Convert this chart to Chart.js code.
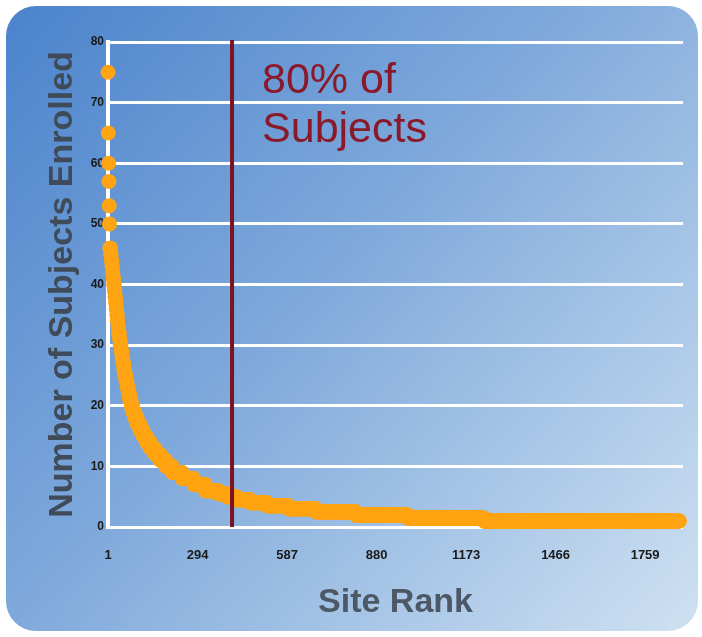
<!DOCTYPE html>
<html>
<head>
<meta charset="utf-8">
<script src="https://cdn.jsdelivr.net/npm/chart.js@4.4.1/dist/chart.umd.min.js"></script>
<style>
  html, body { margin: 0; padding: 0; background: #fff; }
  #wrap { width: 702px; height: 637px; position: relative; }
</style>
</head>
<body>
<div id="wrap"><canvas id="site-rank-chart"></canvas></div>
<script>
// subjects enrolled per site, highest first, and how many sites sit at that level
var enrolledLevels = [75, 65, 60, 57, 53, 50, 46, 45, 44, 43, 42, 41, 40, 39, 38, 37, 36, 35, 34, 33, 32, 31, 30,
    29, 28, 27, 26, 25, 24, 23, 22, 21, 20, 19, 18, 17, 16, 15, 14, 13, 12, 11, 10, 9, 8, 7, 6, 5.5, 5, 4.5, 4,
    3.5, 3, 2.5, 2, 1.5, 1];
var sitesAtLevel = [1, 1, 1, 1, 1, 1, 3, 2, 2, 2, 2, 2, 2, 2, 2, 2, 2, 2, 2, 2, 3, 2, 3,
    3, 3, 3, 3, 4, 4, 4, 4, 5, 5, 7, 8, 9, 10, 11, 13, 15, 17, 19, 21, 32, 38, 38, 42, 30, 30, 45, 55,
    70, 90, 130, 170, 250, 640];

var rankTicks = [1, 294, 587, 880, 1173, 1466, 1759];
var enrolledTicks = [0, 10, 20, 30, 40, 50, 60, 70, 80];
var cutoffRank = 407;
var cutoffLabel = ['80% of', 'Subjects'];

var points = [];
var rank = 1;
enrolledLevels.forEach(function (level, i) {
    for (var k = 0; k < sitesAtLevel[i]; k++) {
        points.push({x: rank, y: level});
        rank++;
    }
});

var panelBackground = {
    id: 'panelBackground',
    beforeDraw: function (chart) {
        var ctx = chart.ctx;
        var w = chart.width, h = chart.height;
        ctx.save();
        ctx.fillStyle = '#fff';
        ctx.fillRect(0, 0, w, h);
        var g = ctx.createLinearGradient(0, 0, w, h);
        g.addColorStop(0, '#4a82cc');
        g.addColorStop(0.45, '#7fa9db');
        g.addColorStop(1, '#d0e2f2');
        ctx.fillStyle = g;
        ctx.beginPath();
        ctx.roundRect(6, 6, w - 10, h - 12, 30);
        ctx.fill();
        ctx.restore();
    }
};

var cutoffLine = {
    id: 'cutoffLine',
    afterDatasetsDraw: function (chart) {
        var ctx = chart.ctx;
        var x = chart.scales.x.getPixelForValue(cutoffRank);
        var area = chart.chartArea;
        ctx.save();
        ctx.strokeStyle = '#7c1222';
        ctx.lineWidth = 4;
        ctx.beginPath();
        ctx.moveTo(x, area.top - 2);
        ctx.lineTo(x, area.bottom);
        ctx.stroke();
        ctx.fillStyle = '#8a1a2a';
        ctx.font = '43px "Liberation Sans", Arial, sans-serif';
        ctx.textBaseline = 'alphabetic';
        cutoffLabel.forEach(function (line, i) {
            ctx.fillText(line, x + 30, area.top + 51 + i * 49);
        });
        ctx.restore();
    }
};

var plainLabel = function (value) {
    return String(value);
};

new Chart(document.getElementById('site-rank-chart'), {
    type: 'scatter',
    data: {
        datasets: [{
            data: points,
            backgroundColor: '#ffa412',
            borderWidth: 0,
            pointRadius: 7.5,
            pointHoverRadius: 7.5,
            clip: false
        }]
    },
    options: {
        responsive: true,
        maintainAspectRatio: false,
        animation: false,
        layout: {padding: {left: 42, right: 19, top: 42, bottom: 14}},
        plugins: {legend: {display: false}, tooltip: {enabled: false}},
        scales: {
            x: {
                type: 'linear',
                min: 1,
                max: 1883,
                afterBuildTicks: function (scale) {
                    scale.ticks = rankTicks.map(function (v) { return {value: v}; });
                },
                afterFit: function (scale) { scale.height = 96; },
                grid: {display: false, drawTicks: false},
                border: {display: false},
                ticks: {
                    color: '#1a1a1a',
                    padding: 21,
                    maxRotation: 0,
                    autoSkip: false,
                    callback: plainLabel,
                    font: {family: '"Liberation Sans", Arial, sans-serif', size: 13, weight: 'bold'}
                },
                title: {
                    display: true,
                    text: 'Site Rank',
                    color: '#4d5866',
                    padding: 0,
                    font: {family: '"Liberation Sans", Arial, sans-serif', size: 34, weight: 'bold'}
                }
            },
            y: {
                min: 0,
                max: 80,
                afterBuildTicks: function (scale) {
                    scale.ticks = enrolledTicks.map(function (v) { return {value: v}; });
                },
                afterFit: function (scale) { scale.width = 66; },
                grid: {color: '#ffffff', lineWidth: 3, drawTicks: false},
                border: {color: '#ffffff', width: 4},
                ticks: {
                    color: '#1a1a1a',
                    padding: 4,
                    callback: plainLabel,
                    font: {family: '"Liberation Sans", Arial, sans-serif', size: 12, weight: 'bold'}
                },
                title: {
                    display: true,
                    text: 'Number of Subjects Enrolled',
                    color: '#3f4b58',
                    padding: 0,
                    font: {family: '"Liberation Sans", Arial, sans-serif', size: 34, weight: 'bold'}
                }
            }
        }
    },
    plugins: [panelBackground, cutoffLine]
});
</script>
</body>
</html>
